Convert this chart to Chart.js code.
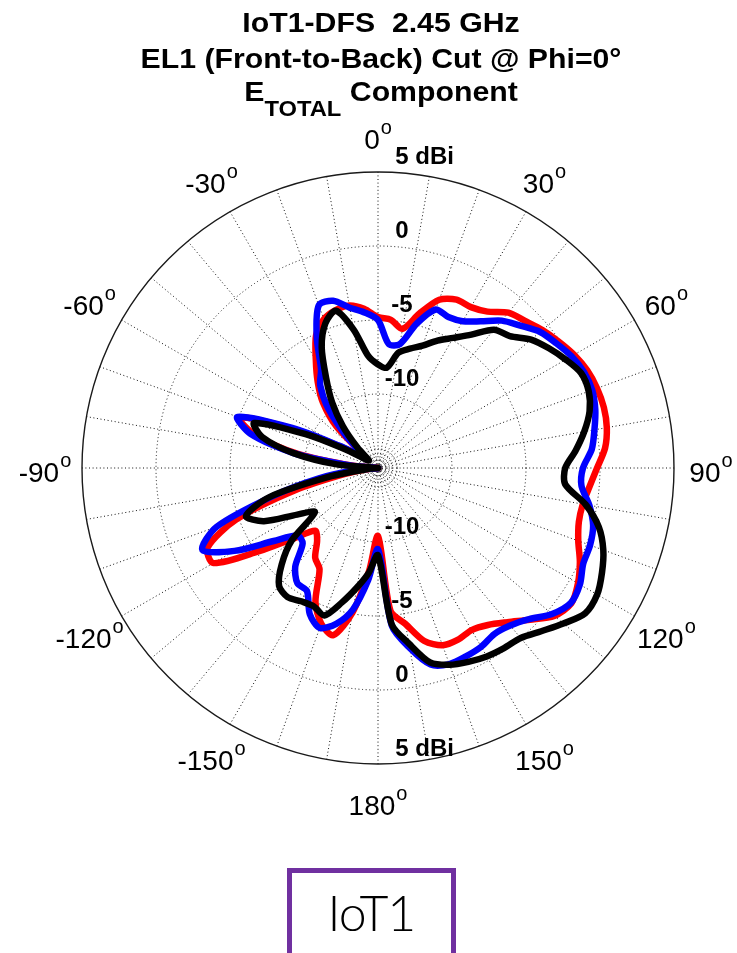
<!DOCTYPE html>
<html>
<head>
<meta charset="utf-8">
<script src="https://cdn.jsdelivr.net/npm/chart.js@4.4.1/dist/chart.umd.min.js"></script>
<style>
  html, body { margin: 0; padding: 0; background: #fff; }
  body { width: 737px; height: 953px; position: relative; overflow: hidden; font-family: "Liberation Sans", Arial, sans-serif; }
  #polar { position: absolute; left: 0; top: 0; }
  .tl { position: absolute; left: 0; width: 762px; text-align: center; font-weight: bold; font-size: 28px; line-height: 28px; color: #000; white-space: nowrap; transform: scaleX(1.08); transform-origin: 381px 0; }
  .tl sub { font-size: 22px; vertical-align: -15px; line-height: 0; }
  #tag { position: absolute; left: 287px; top: 868px; width: 169px; height: 110px; box-sizing: border-box; border: 5px solid #7030a0; }
  #tagText { position: absolute; left: 287px; top: 882px; width: 169px; text-align: center; font-family: "Lato", "Open Sans", sans-serif; font-weight: 300; font-size: 50px; line-height: 60px; color: #000; letter-spacing: -1px; }
</style>
</head>
<body>
<canvas id="polar" width="737" height="953"></canvas>
<div class="tl" style="top:9px">IoT1-DFS&nbsp; 2.45 GHz</div>
<div class="tl" style="top:45px">EL1 (Front-to-Back) Cut @ Phi=0°</div>
<div class="tl" style="top:78px">E<sub>TOTAL</sub> Component</div>
<div id="tag"></div>
<div id="tagText">IoT1</div>
<script>
// angle of each sample, degrees clockwise from the top (0 = front, 180 = back)
const thetaDeg = [
  0, 5, 10, 15, 20, 25, 30, 35, 40, 45, 50, 55,
  60, 65, 70, 75, 80, 85, 90, 95, 100, 105, 110, 115,
  120, 125, 130, 135, 140, 145, 150, 155, 160, 165, 170, 175,
  180, 185, 190, 195, 200, 205, 210, 215, 220, 225, 230, 235,
  240, 245, 250, 255, 260, 265, 270, 275, 280, 285, 290, 295,
  300, 305, 310, 315, 320, 325, 330, 335, 340, 345, 350, 355
];

// gain in dBi, one value per angle above
const redDbi = [
  -4.8, -4.95, -5.45, -4.2, -2.9, -2.45, -2.45, -2.1, -1.3, -0.95, -0.5, -0.1,
  0.3, 0.6, 0.75, 0.8, 0.7, 0.4, -0.2, -0.65, -0.95, -0.95, -0.6, 0.05,
  0.6, 0.95, 0.55, -0.5, -1.4, -2.05, -2.35, -2.2, -2.25, -2.9, -4.3, -5.3,
  -10.4, -8.0, -5.1, -3.3, -3.8, -5.0, -7.1, -7.6, -8.6, -9.0, -7.6, -5.2,
  -2.15, -2.3, -4.8, -9.2, -12.8, -14.5, -15, -13.3, -9.5, -6.4, -5.0, -8.9,
  -12.2, -13.6, -13.8, -11.0, -9.2, -7.9, -6.6, -5.1, -4.3, -3.95, -3.85, -4.2
];
const blueDbi = [
  -5.0, -6.6, -6.5, -4.9, -3.6, -3.75, -3.55, -2.9, -2.0, -1.4, -0.7, -0.3,
  0.1, 0.35, 0.4, 0.2, -0.15, -0.5, -1.15, -1.2, -0.5, 0.05, 0.25, 0.3,
  0.75, 0.9, 0.35, -0.55, -1.1, -1.3, -1.05, -0.95, -0.9, -1.25, -2.65, -4.3,
  -9.5, -7.4, -5.3, -4.1, -3.5, -4.1, -5.4, -5.5, -6.3, -7.8, -7.9, -6.4,
  -3.8, -1.9, -3.4, -7.6, -10.9, -13.6, -15, -13.2, -9.2, -6.1, -4.9, -8.6,
  -12.0, -13.5, -13.8, -12.0, -9.8, -8.2, -7.3, -5.2, -3.3, -3.3, -4.0, -4.45
];
const blackDbi = [
  -8.0, -8.2, -7.1, -6.65, -6.2, -5.5, -4.85, -4.0, -2.8, -2.4, -1.5, -0.9,
  -0.35, 0.15, 0.15, -0.2, -0.85, -1.6, -2.35, -2.3, -0.75, 0.45, 1.2, 1.7,
  2.1, 2.1, 1.35, 0.6, 0.0, -0.15, -0.3, -0.55, -0.85, -1.4, -2.95, -4.4,
  -9.1, -7.9, -6.8, -5.6, -4.4, -4.7, -4.6, -4.35, -4.6, -5.8, -7.4, -9.8,
  -8.7, -6.5, -5.5, -7.4, -11.8, -14.5, -15, -12.2, -9.2, -6.9, -6.1, -9.6,
  -12.6, -14.0, -14.2, -13.0, -11.3, -9.6, -8.0, -6.0, -4.6, -4.0, -5.5, -7.4
];

// rings of the polar grid (dBi) and the labelled ones
const ringValues = [-15, -14.7, -14.4, -14.05, -13.7, -10, -5, 0, 5];
const ringLabels = [-10, -5, 0, 5];
// labelled angles
const angleTicks = [0, 30, 60, 90, 120, 150, 180, -150, -120, -90, -60, -30];

const polarLabels = {
  id: 'polarLabels',
  afterDraw(chart) {
    const s = chart.scales.r;
    const ctx = chart.ctx;
    ctx.save();
    ctx.fillStyle = '#000';
    ctx.textAlign = 'left';
    ctx.textBaseline = 'middle';

    // angle labels with the little superscript o
    const bigFont = '28px "Liberation Sans", Arial, sans-serif';
    const supFont = '20px "Liberation Sans", Arial, sans-serif';
    angleTicks.forEach(a => {
      const idx = thetaDeg.indexOf((a + 360) % 360);
      const p = s.getPointPosition(idx, s.drawingArea + 37);
      const txt = String(a);
      ctx.font = bigFont;
      const w1 = ctx.measureText(txt).width;
      ctx.font = supFont;
      const w2 = ctx.measureText('o').width;
      const x0 = p.x - (w1 + w2 + 1) / 2;
      ctx.font = bigFont;
      ctx.fillText(txt, x0, p.y + 6);
      ctx.font = supFont;
      ctx.fillText('o', x0 + w1 + 1, p.y - 7);
    });

    // ring labels, above the ring on the 0 and 180 directions
    ctx.font = 'bold 24px "Liberation Sans", Arial, sans-serif';
    ringLabels.forEach(v => {
      const d = s.getDistanceFromCenterForValue(v);
      const num = String(v);
      const txt = v === 5 ? '5 dBi' : num;
      const x = s.xCenter + 24 - ctx.measureText(num).width / 2;
      ctx.fillText(txt, x, s.yCenter - d - 15);
      ctx.fillText(txt, x, s.yCenter + d - 15);
    });
    ctx.restore();
  }
};

const lineStyle = { fill: false, pointRadius: 0, pointHoverRadius: 0, borderWidth: 6.5, tension: 0.28, borderJoinStyle: 'round', borderCapStyle: 'round' };

new Chart(document.getElementById('polar').getContext('2d'), {
  type: 'radar',
  data: {
    labels: thetaDeg,
    datasets: [
      { label: 'black', data: blackDbi, borderColor: '#000000', ...lineStyle },
      { label: 'blue', data: blueDbi, borderColor: '#0000ff', ...lineStyle },
      { label: 'red', data: redDbi, borderColor: '#ff0000', ...lineStyle }
    ]
  },
  options: {
    responsive: false,
    animation: false,
    events: [],
    layout: { padding: { left: 82, right: 63, top: 172, bottom: 189 } },
    plugins: { legend: { display: false }, tooltip: { enabled: false }, title: { display: false } },
    scales: {
      r: {
        min: -15,
        max: 5,
        startAngle: 0,
        ticks: { display: false, stepSize: 5 },
        afterBuildTicks: (scale) => { scale.ticks = ringValues.map(v => ({ value: v })); },
        pointLabels: { display: false },
        grid: {
          circular: true,
          color: ctx => ctx.tick && ctx.tick.value === 5 ? '#1a1a1a' : '#111',
          lineWidth: ctx => ctx.tick && ctx.tick.value === 5 ? 1.4 : 1
        },
        border: { dash: ctx => ctx.tick && ctx.tick.value === 5 ? [] : [1, 2.6] },
        angleLines: {
          color: '#111',
          lineWidth: ctx => ctx.index % 2 === 0 ? 1 : 0,
          borderDash: [1, 2.6]
        }
      }
    }
  },
  plugins: [polarLabels]
});
</script>
</body>
</html>
